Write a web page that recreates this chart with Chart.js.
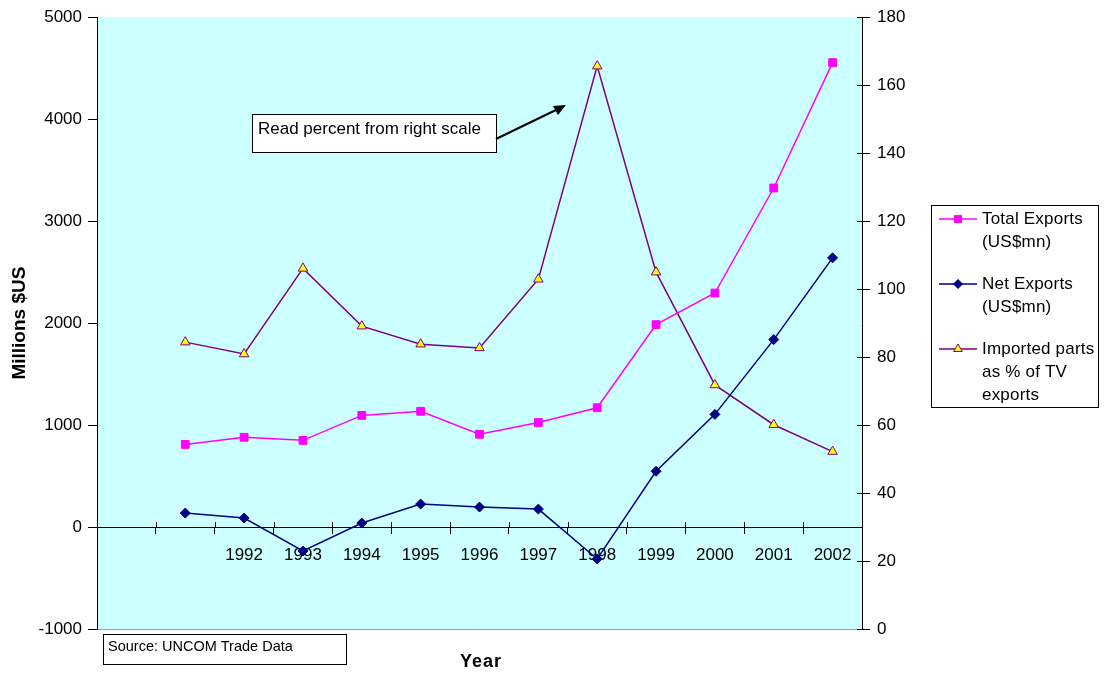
<!DOCTYPE html>
<html>
<head>
<meta charset="utf-8">
<script src="https://cdn.jsdelivr.net/npm/chart.js@4.4.0/dist/chart.umd.min.js"></script>
<style>
  html, body { margin: 0; padding: 0; background: #ffffff; }
  #wrap { width: 1104px; height: 675px; }
</style>
</head>
<body>
<div id="wrap"><canvas id="chart" width="1104" height="675"></canvas></div>
<script>
// categories (first slot is an empty spacer, second year is unlabelled in the original)
var years = ['', '', '1992', '1993', '1994', '1995', '1996', '1997', '1998', '1999', '2000', '2001', '2002'];
// left scale, millions US$
var totalExports = [null, 810, 880, 850, 1095, 1135, 910, 1025, 1170, 1985, 2295, 3325, 4555];
var netExports = [null, 137, 88, -235, 39, 225, 196, 176, -313, 547, 1105, 1838, 2640];
// right scale, percent
var importedShare = [null, 84.4, 80.9, 106.1, 89.1, 83.8, 82.7, 102.9, 165.6, 105, 71.8, 60.1, 52.2];

var FONT = 'Liberation Sans, Arial, sans-serif';
Chart.defaults.font.family = FONT;
Chart.defaults.color = '#000';

// cyan plot background
var plotBg = {
  id: 'plotBg',
  beforeDraw: function(chart) {
    var a = chart.chartArea, ctx = chart.ctx;
    ctx.save();
    ctx.fillStyle = '#ccffff';
    ctx.fillRect(a.left, a.top, a.right - a.left, a.bottom - a.top);
    ctx.strokeStyle = '#999999';
    ctx.lineWidth = 1;
    ctx.beginPath();
    ctx.moveTo(a.left, a.bottom + 0.5);
    ctx.lineTo(a.right, a.bottom + 0.5);
    ctx.stroke();
    ctx.restore();
  }
};

var extras = {
  id: 'extras',
  afterDraw: function(chart) {
    var ctx = chart.ctx, a = chart.chartArea;
    var xs = chart.scales.x, y0 = chart.scales.y.getPixelForValue(0);
    ctx.save();

    // upper halves of the crossing tick marks
    ctx.strokeStyle = '#000';
    ctx.lineWidth = 1;
    var step = (xs.right - xs.left) / years.length;
    ctx.beginPath();
    for (var i = 1; i < years.length; i++) {
      var x = Math.round(xs.left + i * step) + 0.5;
      ctx.moveTo(x, y0 - 5);
      ctx.lineTo(x, y0);
    }
    var rs = chart.scales.y1;
    rs.ticks.forEach(function(t) {
      var y = Math.round(rs.getPixelForValue(t.value)) + 0.5;
      ctx.moveTo(a.right - 5, y);
      ctx.lineTo(a.right, y);
    });
    ctx.stroke();

    // annotation box and arrow
    ctx.fillStyle = '#fff';
    ctx.fillRect(252, 114, 244, 38);
    ctx.strokeStyle = '#000';
    ctx.strokeRect(252.5, 114.5, 244, 38);
    ctx.fillStyle = '#000';
    ctx.font = '17px ' + FONT;
    ctx.textBaseline = 'alphabetic';
    ctx.textAlign = 'left';
    ctx.fillText('Read percent from right scale', 258, 134);
    ctx.lineWidth = 2;
    ctx.beginPath();
    ctx.moveTo(496, 139);
    ctx.lineTo(560, 108);
    ctx.stroke();
    ctx.beginPath();
    ctx.moveTo(566, 105);
    ctx.lineTo(553, 106);
    ctx.lineTo(558, 115);
    ctx.closePath();
    ctx.fill();

    // source box
    ctx.lineWidth = 1;
    ctx.fillStyle = '#fff';
    ctx.fillRect(103, 634, 243, 30);
    ctx.strokeRect(103.5, 634.5, 243, 30);
    ctx.fillStyle = '#000';
    ctx.font = '14.5px ' + FONT;
    ctx.fillText('Source: UNCOM Trade Data', 108, 651);

    // x axis title
    ctx.font = 'bold 18px ' + FONT;
    ctx.textAlign = 'center';
    ctx.letterSpacing = '1px';
    ctx.fillText('Year', 481, 667);
    ctx.letterSpacing = '0px';

    // legend
    ctx.strokeStyle = '#000';
    ctx.strokeRect(931.5, 205.5, 167, 202);
    var entries = [
      { color: '#ff00ff', style: 'rect', radius: 5, fill: '#ff00ff', lines: ['Total Exports', '(US$mn)'], y: 219 },
      { color: '#000080', style: 'rectRot', radius: 4.5, fill: '#000080', lines: ['Net Exports', '(US$mn)'], y: 284 },
      { color: '#800080', style: 'triangle', radius: 5, fill: '#ffff00', lines: ['Imported parts', 'as % of TV', 'exports'], y: 349 }
    ];
    ctx.font = '17px ' + FONT;
    ctx.textAlign = 'left';
    ctx.textBaseline = 'middle';
    ctx.letterSpacing = '0.2px';
    entries.forEach(function(e) {
      ctx.strokeStyle = e.color;
      ctx.lineWidth = 1.5;
      ctx.beginPath();
      ctx.moveTo(939, e.y);
      ctx.lineTo(977, e.y);
      ctx.stroke();
      ctx.fillStyle = e.fill;
      ctx.strokeStyle = e.color;
      ctx.lineWidth = 1;
      Chart.helpers.drawPoint(ctx, { pointStyle: e.style, radius: e.radius, borderWidth: 1 }, 958, e.y);
      ctx.fillStyle = '#000';
      e.lines.forEach(function(t, k) {
        ctx.fillText(t, 982, e.y + k * 23);
      });
    });
    ctx.restore();
  }
};

new Chart(document.getElementById('chart'), {
  type: 'line',
  data: {
    labels: years,
    datasets: [
      {
        label: 'Total Exports (US$mn)',
        data: totalExports,
        yAxisID: 'y',
        borderColor: '#ff00ff',
        backgroundColor: '#ff00ff',
        borderWidth: 1.5,
        pointStyle: 'rect',
        pointRadius: 5.5,
        pointBorderWidth: 1,
        tension: 0
      },
      {
        label: 'Net Exports (US$mn)',
        data: netExports,
        yAxisID: 'y',
        borderColor: '#000080',
        backgroundColor: '#000080',
        borderWidth: 1.5,
        pointStyle: 'rectRot',
        pointRadius: 5,
        pointBorderWidth: 1,
        tension: 0
      },
      {
        label: 'Imported parts as % of TV exports',
        data: importedShare,
        yAxisID: 'y1',
        borderColor: '#800080',
        backgroundColor: '#ffff00',
        pointBorderColor: '#800080',
        borderWidth: 1.5,
        pointStyle: 'triangle',
        pointRadius: 5.5,
        pointBorderWidth: 1,
        tension: 0
      }
    ]
  },
  options: {
    responsive: false,
    animation: false,
    layout: { padding: { top: 15, bottom: 46, left: 0, right: 0 } },
    plugins: {
      legend: { display: false },
      tooltip: { enabled: false }
    },
    scales: {
      x: {
        position: { y: 0 },
        offset: true,
        grid: {
          display: true,
          offset: true,
          drawOnChartArea: false,
          drawTicks: true,
          tickLength: 6,
          color: '#000'
        },
        border: { display: true, color: '#000', width: 1 },
        ticks: {
          autoSkip: false,
          maxRotation: 0,
          padding: 12,
          font: { size: 17 },
          color: '#000'
        }
      },
      y: {
        position: 'left',
        min: -1000,
        max: 5000,
        afterFit: function(s) { s.width = 97; },
        ticks: {
          stepSize: 1000,
          padding: 6,
          font: { size: 17 },
          color: '#000',
          callback: function(v) { return String(v); }
        },
        grid: { display: true, drawOnChartArea: false, tickLength: 9, color: '#000' },
        border: { display: true, color: '#000', width: 1 },
        title: {
          display: true,
          text: 'Millions $US',
          font: { size: 19, weight: 'bold' },
          padding: { top: 8, bottom: 0 }
        }
      },
      y1: {
        position: 'right',
        min: 0,
        max: 180,
        afterFit: function(s) { s.width = 242; },
        ticks: { stepSize: 20, padding: 7, font: { size: 17 }, color: '#000' },
        grid: { display: true, drawOnChartArea: false, tickLength: 8, color: '#000' },
        border: { display: true, color: '#000', width: 1 }
      }
    }
  },
  plugins: [plotBg, extras]
});
</script>
</body>
</html>
